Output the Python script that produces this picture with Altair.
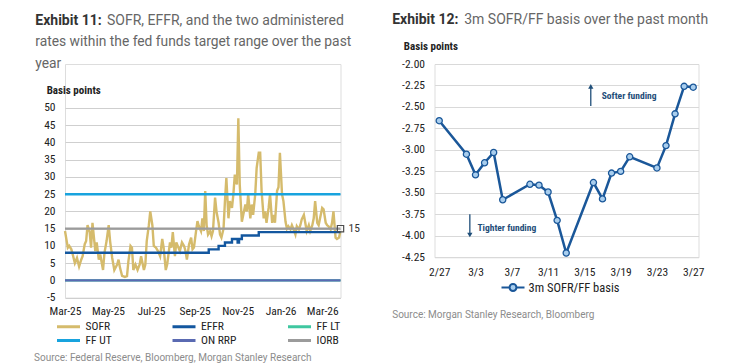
import altair as alt
import pandas as pd

NARROW = "Roboto Condensed, Roboto"
ROBOTO = "Roboto"

# ---------------- Exhibit 11 data ----------------
sofr_start = "2025-03-01"
sofr_day = [0, 4, 6, 9, 11, 14, 17, 20, 23, 25, 28, 30, 32, 35, 37, 39, 43, 45, 48, 50, 54, 56, 59, 62,
            64, 67, 70, 74, 76, 78, 81, 85, 88, 90, 93, 95, 97, 100, 103, 106, 108, 112, 114, 116,
            119, 121, 124, 126, 129, 132, 135, 138, 140, 143, 145, 149, 151, 153, 156, 158, 161, 163,
            166, 169, 171, 173, 176, 179, 181, 183, 186, 188, 190, 193, 195, 197, 199, 201,
            203, 206, 208, 210, 213, 215, 218, 220, 222, 225, 227, 229, 232, 234, 237, 239, 241, 244,
            246, 248, 251, 253, 256, 258, 260, 263, 265, 267, 270, 272, 275, 277, 279, 282, 284, 286,
            289, 291, 294, 296, 298, 301, 303, 305, 308, 310, 313, 315, 317, 320, 322, 324, 327, 329,
            332, 334, 336, 339, 341, 343, 346, 348, 351, 353, 355, 358, 360, 362, 365, 367, 370, 372,
            374, 377, 379, 381, 384, 386, 389, 391]
sofr_bp = [14.3, 9.5, 10, 9, 7.5, 5, 6.5, 4, 6, 7, 10.5, 11.4, 16, 14, 9.5, 16.7, 8.5, 11, 6, 7.5, 3, 8,
           11.4, 16, 11.4, 6.5, 3, 4.6, 6, 3.7, 1.3, 1, 1.2, 5.6, 10, 9.5, 3, 4.6, 3, 4.6, 7, 3, 4.6, 11.4,
           16, 20, 16, 10, 9.5, 8.5, 7, 12, 9.5, 3, 4.6, 11, 9.5, 14, 7, 11, 9.5, 8.5, 11, 10, 8.5, 6,
           10.4, 12.4, 9, 9.5, 14.3, 17.2, 15.7, 14.3, 18, 14.3, 25.9, 16,
           13.3, 14.3, 12.8, 14.3, 24, 20, 16.7, 13.3, 12.4, 15,
           23, 29.7, 18, 23, 21, 25, 30.7, 27.8, 47, 27.8,
           17, 19, 22, 20, 25, 18, 22, 19, 25, 32.6,
           37, 37, 26, 18, 20, 16.7, 21, 25, 16.7, 19,
           16.7, 26, 27, 37, 25, 23, 17, 15, 15.7, 14.8,
           16, 15, 13.3, 15.7, 14.8, 16, 17.7, 19, 16.7, 14.3,
           16, 14.3, 16, 18, 23, 16.7, 16, 18, 21, 20.6,
           16.7, 16, 15.7, 14.8, 16.7, 20, 12.4, 12, 12.4, 14.3]
effr_dates = ["2025-03-01", "2025-09-21", "2025-10-05", "2025-10-14", "2025-10-24", "2025-11-01",
              "2025-11-03", "2025-11-07", "2025-12-01", "2026-03-27"]
effr_bp = [8, 9, 10, 11, 12, 11, 12, 13, 14, 14]
fixed_names = ["FF LT", "FF UT", "ON RRP", "IORB"]
fixed_bp = [0, 25, 0, 15]
span_dates = ["2025-03-01", "2026-03-27"]
series_names = ["SOFR", "EFFR", "FF LT", "FF UT", "ON RRP", "IORB"]
series_colors = ["#D5BB6C", "#13579F", "#3FC7A0", "#18A3DE", "#5A6AB2", "#9B9B9B"]
left_ticks = ["2025-03-01", "2025-05-01", "2025-07-01", "2025-09-01", "2025-11-01", "2026-01-01", "2026-03-01"]
left_y_ticks = [-5, 0, 5, 10, 15, 20, 25, 30, 35, 40, 45, 50]
left_title_bold = "Exhibit 11:"
left_title_rest = "SOFR, EFFR, and the two administered"
left_title_lines = ["rates within the fed funds target range over the past", "year"]
left_source = "Source: Federal Reserve, Bloomberg, Morgan Stanley Research"
iorb_end_label = "15"

# ---------------- Exhibit 12 data ----------------
basis_dates = ["2026-02-27", "2026-03-02", "2026-03-03", "2026-03-04", "2026-03-05", "2026-03-06",
               "2026-03-09", "2026-03-10", "2026-03-11", "2026-03-12", "2026-03-13", "2026-03-16",
               "2026-03-17", "2026-03-18", "2026-03-19", "2026-03-20", "2026-03-23", "2026-03-24",
               "2026-03-25", "2026-03-26", "2026-03-27"]
basis_bp = [-2.66, -3.05, -3.29, -3.15, -3.03, -3.58, -3.40, -3.41, -3.49, -3.82, -4.20, -3.38,
            -3.57, -3.27, -3.25, -3.08, -3.21, -2.95, -2.58, -2.26, -2.27]
basis_name = "3m SOFR/FF basis"
right_span = ["2026-02-26T11:30", "2026-03-27T14:00"]
right_ticks = ["2026-02-27", "2026-03-03", "2026-03-07", "2026-03-11", "2026-03-15", "2026-03-19",
               "2026-03-23", "2026-03-27"]
right_y_ticks = [-4.25, -4.0, -3.75, -3.5, -3.25, -3.0, -2.75, -2.5, -2.25, -2.0]
right_title_bold = "Exhibit 12:"
right_title_rest = "3m SOFR/FF basis over the past month"
right_source = "Source: Morgan Stanley Research, Bloomberg"
annot_text = ["Softer funding", "Tighter funding"]
annot_date = ["2026-03-16T22:00", "2026-03-03T05:00"]
annot_bp = [-2.376, -3.909]
arrow_date = ["2026-03-15T17:00", "2026-03-02T09:00"]
arrow_from = [-2.49, -3.75]
arrow_to = [-2.26, -3.99]
arrow_shape = ["triangle-up", "triangle-down"]


def dt(s):
    t = pd.Timestamp(s)
    return alt.DateTime(year=t.year, month=t.month, date=t.day, hours=t.hour, minutes=t.minute)


MINUS_FIX = "replace(datum.label, '\u2212', '-')"
LAB = 11.5
LINE_SYM = "M-2,0L2,0"

# ---------------- Left panel ----------------
LW, LH = 275.5, 233.6
sofr_df = pd.DataFrame({
    "date": pd.Timestamp(sofr_start) + pd.to_timedelta(sofr_day, unit="D"),
    "bp": sofr_bp, "series": "SOFR"})
effr_df = pd.DataFrame({"date": pd.to_datetime(effr_dates), "bp": effr_bp, "series": "EFFR"})
fixed_df = pd.DataFrame([
    {"date": pd.Timestamp(d), "bp": v, "series": n}
    for n, v in zip(fixed_names, fixed_bp) for d in span_dates])
end_df = pd.DataFrame({"date": [pd.Timestamp(span_dates[-1])], "bp": [fixed_bp[-1]], "t": [iorb_end_label]})

lx = alt.X("date:T", scale=alt.Scale(domain=[dt(span_dates[0]), dt(span_dates[-1])]),
           axis=alt.Axis(values=[dt(s) for s in left_ticks], format="%b-%y", labelFlush=False,
                         labelOverlap=False, ticks=False, domain=False, grid=False, labelPadding=8,
                         labelFont=NARROW, labelFontSize=LAB, labelColor="#222", title=None))
ly = alt.Y("bp:Q", scale=alt.Scale(domain=[-5, 62.76], nice=False, zero=False),
           axis=alt.Axis(values=left_y_ticks, grid=True, gridColor="#CFCFCF", domain=False, ticks=False,
                         labelPadding=10, labelFont=NARROW, labelFontSize=LAB, labelColor="#222",
                         labelFlush=False, labelOverlap=False, labelExpr=MINUS_FIX, title=None))
lcolor = alt.Color("series:N", scale=alt.Scale(domain=series_names, range=series_colors),
                   legend=alt.Legend(title=None, orient="none", legendX=-4, legendY=255, columns=3,
                                     direction="horizontal",
                                     symbolType=LINE_SYM, symbolSize=132.25, symbolStrokeWidth=3,
                                     labelFont=NARROW, labelFontSize=LAB, labelColor="#222",
                                     labelOffset=9.5, columnPadding=45.5, rowPadding=0, gridAlign="all",
                                     padding=0))

sofr_line = alt.Chart(sofr_df).mark_line(strokeWidth=2.4).encode(x=lx, y=ly, color=lcolor)
effr_line = alt.Chart(effr_df).mark_line(strokeWidth=2.4, interpolate="step-after").encode(
    x=lx, y=ly, color=lcolor)
fixed_lines = alt.Chart(fixed_df).mark_line(strokeWidth=2.4).encode(x=lx, y=ly, color=lcolor)
end_box = alt.Chart(end_df).mark_point(shape="square", filled=False, color="#4D4D4D", size=40,
                                       strokeWidth=1.2, opacity=1).encode(x=lx, y=ly)
end_txt = alt.Chart(end_df).mark_text(align="left", baseline="middle", dx=8, font=NARROW,
                                      fontSize=LAB, color="#333").encode(x=lx, y=ly, text="t:N")


def txt(df_text, x, y, size, color, weight="normal", font=ROBOTO, baseline="alphabetic"):
    return alt.Chart(pd.DataFrame({"t": [df_text]})).mark_text(
        align="left", baseline=baseline, font=font, fontSize=size, color=color, fontWeight=weight
    ).encode(x=alt.value(x), y=alt.value(y), text="t:N")


left_texts = [
    txt(left_title_bold, -29.7, -39.4, 14, "#333333", "bold"),
    txt(left_title_rest, 42, -39.4, 14, "#666666"),
    txt(left_title_lines[0], -29.7, -17.7, 13.8, "#666666"),
    txt(left_title_lines[1], -29.7, 4.0, 13.8, "#666666"),
    txt("Basis points", -18.3, 27.3, 11, "#222222", "bold", NARROW, "middle"),
    txt(left_source, -31, 294.3, 10, "#8C8C8C", "normal", ROBOTO, "middle"),
]

left = alt.layer(sofr_line, effr_line, fixed_lines, end_box, end_txt, *left_texts).properties(
    width=LW, height=LH)

# ---------------- Right panel ----------------
RW, RH = 264, 193.3
basis_df = pd.DataFrame({"date": pd.to_datetime(basis_dates), "bp": basis_bp, "series": basis_name})
annot_df = pd.DataFrame({"date": pd.to_datetime(annot_date), "bp": annot_bp, "t": annot_text})
arrow_df = pd.DataFrame({"date": pd.to_datetime(arrow_date), "bp": arrow_from, "bp2": arrow_to})
head_df = pd.DataFrame({"date": pd.to_datetime(arrow_date), "bp": arrow_to, "shape": arrow_shape})

rx = alt.X("date:T", scale=alt.Scale(domain=[dt(right_span[0]), dt(right_span[1])]),
           axis=alt.Axis(values=[dt(s) for s in right_ticks], format="%-m/%-d", labelFlush=False,
                         labelOverlap=False, ticks=False, domain=False, grid=False, labelPadding=9,
                         labelFont=NARROW, labelFontSize=LAB, labelColor="#222", title=None))
ry = alt.Y("bp:Q", scale=alt.Scale(domain=[-4.25, -2.0], nice=False, zero=False),
           axis=alt.Axis(values=right_y_ticks, format=".2f", grid=True, gridColor="#D9D9D9",
                         domain=False, ticks=False, labelPadding=10, labelFont=NARROW,
                         labelFontSize=LAB, labelColor="#222", labelFlush=False, labelOverlap=False,
                         labelExpr=MINUS_FIX, title=None))
SYM = "M-1,0L-0.3,0M0.3,0L1,0M-0.3,0A0.3,0.3,0,1,0,0.3,0A0.3,0.3,0,1,0,-0.3,0Z"
rcolor = alt.Color("series:N", scale=alt.Scale(domain=[basis_name], range=["#1A5799"]),
                   legend=alt.Legend(title=None, orient="none", legendX=66, legendY=211,
                                     direction="horizontal",
                                     symbolType=SYM, symbolSize=529, symbolStrokeWidth=2,
                                     symbolFillColor="#A9CEEE", labelFont=NARROW, labelFontSize=12.5,
                                     labelColor="#222", labelOffset=3, padding=0))

basis_line = alt.Chart(basis_df).mark_line(strokeWidth=2.5).encode(x=rx, y=ry, color=rcolor)
basis_pts = alt.Chart(basis_df).mark_circle(fill="#A9CEEE", stroke="#1A5799", strokeWidth=1.3,
                                            size=38, opacity=1).encode(x=rx, y=ry)
arrow_rule = alt.Chart(arrow_df).mark_rule(color="#1F4E79", strokeWidth=1.3).encode(
    x=rx, y=ry, y2="bp2:Q")
arrow_head = alt.Chart(head_df).mark_point(filled=True, color="#1F4E79", size=28, opacity=1).encode(
    x=rx, y=ry, shape=alt.Shape("shape:N", scale=None))
annot = alt.Chart(annot_df).mark_text(align="left", baseline="middle", font=NARROW, fontSize=9.5,
                                      fontWeight="bold", color="#1F4E79").encode(x=rx, y=ry, text="t:N")

right_texts = [
    txt(right_title_bold, -42.3, -40, 14, "#333333", "bold"),
    txt(right_title_rest, 29.7, -40, 14, "#666666"),
    txt("Basis points", -30.7, -17, 11, "#222222", "bold", NARROW, "middle"),
    txt(right_source, -42.3, 250.6, 10, "#8C8C8C", "normal", ROBOTO, "middle"),
]

right = alt.layer(basis_line, basis_pts, arrow_rule, arrow_head, annot, *right_texts).properties(
    width=RW, height=RH)

chart = alt.hconcat(left, right, spacing=93.5, bounds="flush").resolve_scale(
    color="independent", x="independent", y="independent").resolve_legend(color="independent").properties(
    padding={"left": 25, "top": 4, "right": 5, "bottom": 0}).configure_view(strokeWidth=0).configure(
    background="white")

chart.save("out.html", embed_options={"renderer": "svg", "actions": False})
